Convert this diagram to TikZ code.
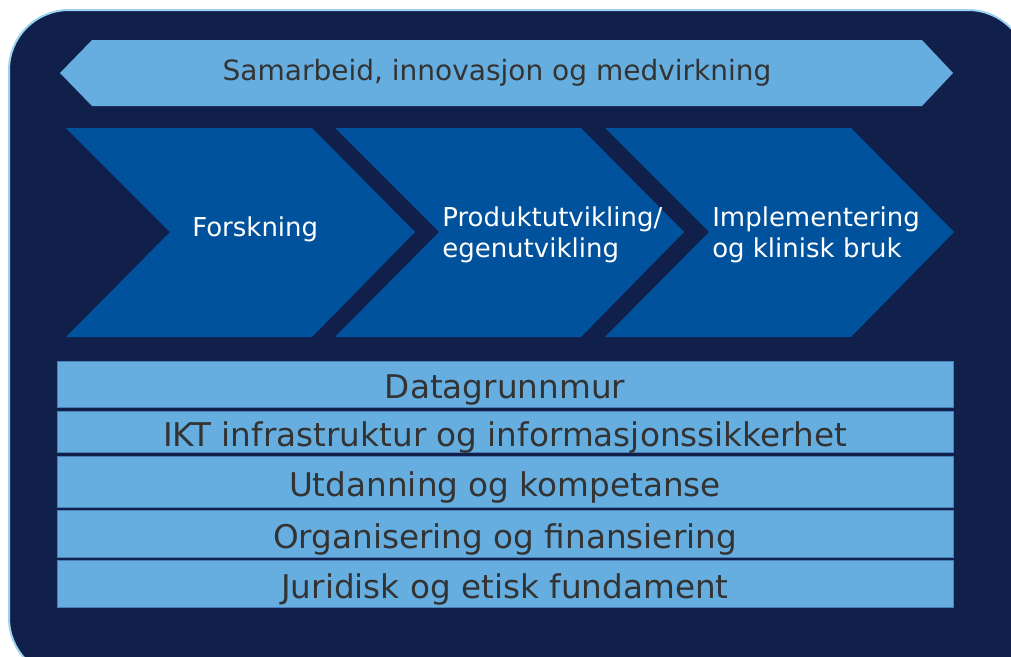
\documentclass[tikz,border=0pt]{standalone}
\usepackage{fontspec}
\setmainfont{DejaVu Sans}
\usetikzlibrary{positioning}
\definecolor{navy}{HTML}{10204B}
\definecolor{lightblue}{HTML}{66AEE0}
\definecolor{chevblue}{HTML}{00529C}
\definecolor{rimblue}{HTML}{9DD3EE}
\definecolor{textgray}{HTML}{333333}
\definecolor{barline}{HTML}{4A80B8}

\begin{document}
\begin{tikzpicture}[x=0.75pt,y=-0.75pt]
 \tikzstyle{bar}=[fill=lightblue, draw=barline, line width=0.5pt, minimum width=672pt, inner sep=0pt, text height=22pt, text depth=0.25pt, text=textgray, font=\fontsize{24.5}{28}\selectfont]
 \tikzstyle{chev}=[fill=chevblue]
 \tikzstyle{chevtext}=[anchor=west, align=left, inner sep=0pt, text=white, font=\fontsize{19.5}{23}\selectfont]
 \useasboundingbox (0,0) rectangle (1011,657);
 \clip (0,0) rectangle (1011,657);
 % background
 \draw[rimblue, fill=navy, line width=1.5pt, rounded corners=45pt] (9,10) rectangle (1028,678);
 % banner
 \fill[lightblue] (60,73) -- (92,40) -- (922,40) -- (953,73) -- (922,106) -- (92,106) -- cycle;
 \node[text=textgray, font=\fontsize{21}{25}\selectfont] (samarbeid) at (497,73) {Samarbeid, innovasjon og medvirkning};
 % chevrons
 \foreach \x in {66,335,605}
  \fill[chev] (\x,128) -- (\x+246,128) -- (\x+349,232) -- (\x+246,337) -- (\x,337) -- (\x+104,232) -- cycle;
 \node[chevtext] (forskning) at (192,229) {Forskning};
 \node[chevtext] (produkt) at (442,235) {Produktutvikling/\\egenutvikling};
 \node[chevtext] (impl) at (712,235) {Implementering\\og klinisk bruk};
 % foundation bars
 \node[bar, minimum height=34.5pt] (data) at (505,384) {Datagrunnmur};
 \node[bar, minimum height=30.75pt] (ikt) at (505,431.5) {IKT infrastruktur og informasjonssikkerhet};
 \node[bar, minimum height=38.25pt] (utd) at (505,481.5) {Utdanning og kompetanse};
 \node[bar, minimum height=35.25pt] (org) at (505,533.5) {Organisering og finansiering};
 \node[bar, minimum height=35.25pt] (jur) at (505,583.5) {Juridisk og etisk fundament};
\end{tikzpicture}
\end{document}
